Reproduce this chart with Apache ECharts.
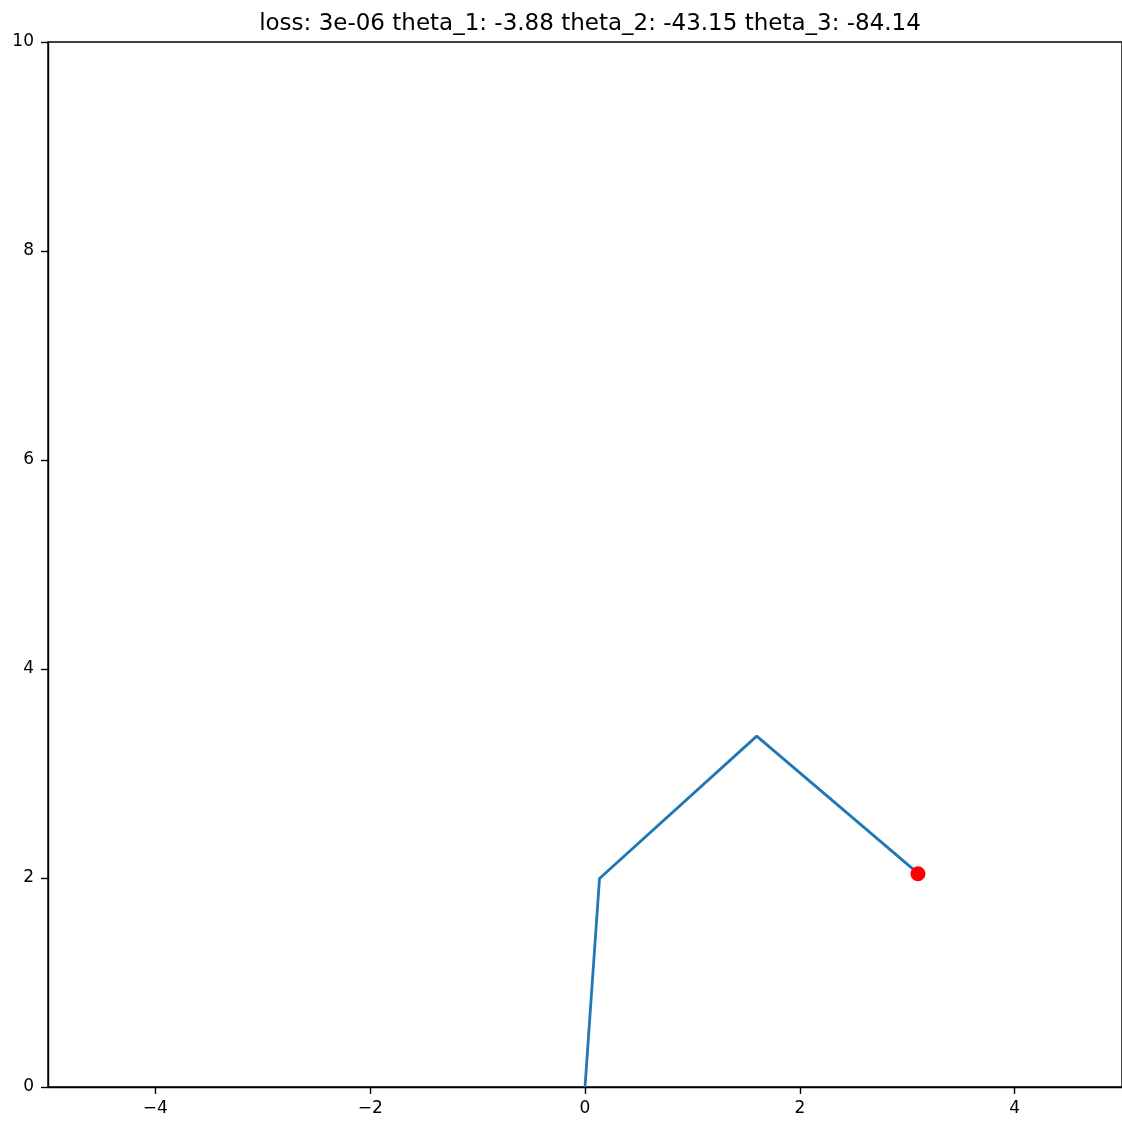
<!DOCTYPE html>
<html>
<head>
<meta charset="utf-8">
<script src="https://cdn.jsdelivr.net/npm/echarts@6/dist/echarts.min.js"></script>
<style>html,body{margin:0;padding:0;background:#fff}#c{width:1122px;height:1124px}</style>
</head>
<body>
<div id="c"></div>
<script>
const titleText = 'loss: 3e-06 theta_1: -3.88 theta_2: -43.15 theta_3: -84.14';
const armX = [0, 0.135, 1.599, 3.104];
const armY = [0, 1.995, 3.358, 2.042];
const targetX = [3.10];
const targetY = [2.04];
const xTicks = [-4, -2, 0, 2, 4];
const yTicks = [0, 2, 4, 6, 8, 10];

const fmt = v => String(v).replace('-', '\u2212');
const chart = echarts.init(document.getElementById('c'));
const lineStyle = {color: '#000', width: 1.4};
chart.setOption({
  animation: false,
  title: {text: titleText, left: 585, top: 8, textAlign: 'center',
    textStyle: {fontFamily: 'DejaVu Sans', fontSize: 23, fontWeight: 'normal', color: '#000'}},
  grid: {left: 48, right: 0, top: 42, bottom: 37, show: true, borderColor: '#000', borderWidth: 1.4},
  xAxis: {type: 'value', min: -5, max: 5, interval: 2,
    axisLine: {show: true, onZero: false, lineStyle: lineStyle},
    axisTick: {show: true, length: 7, customValues: xTicks, lineStyle: lineStyle},
    axisLabel: {color: '#000', fontFamily: 'DejaVu Sans', fontSize: 17, margin: 13,
      customValues: xTicks, formatter: fmt},
    splitLine: {show: false}},
  yAxis: {type: 'value', min: 0, max: 10, interval: 2,
    axisLine: {show: true, onZero: false, lineStyle: lineStyle},
    axisTick: {show: true, length: 7, customValues: yTicks, lineStyle: lineStyle},
    axisLabel: {color: '#000', fontFamily: 'DejaVu Sans', fontSize: 17, margin: 14,
      customValues: yTicks, formatter: fmt},
    splitLine: {show: false}},
  series: [
    {type: 'line', data: armX.map((x, i) => [x, armY[i]]), showSymbol: false,
      lineStyle: {color: '#1f77b4', width: 2.8}, z: 2},
    {type: 'scatter', data: targetX.map((x, i) => [x, targetY[i]]), symbolSize: 15,
      itemStyle: {color: '#ff0000', opacity: 1}, z: 3}
  ]
});
</script>
</body>
</html>
